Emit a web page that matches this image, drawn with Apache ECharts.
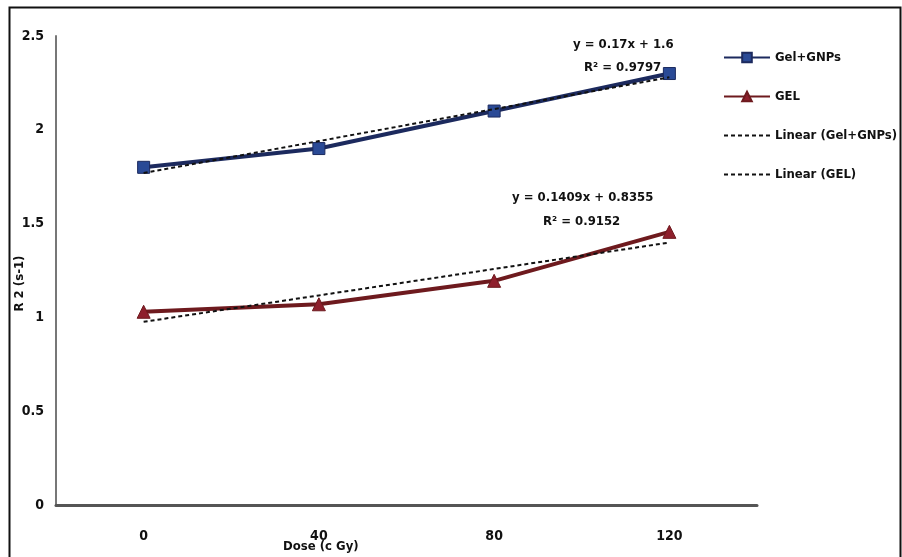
<!DOCTYPE html>
<html>
<head>
<meta charset="utf-8">
<script src="https://cdn.jsdelivr.net/npm/echarts@6/dist/echarts.min.js"></script>
<style>
html,body{margin:0;padding:0;background:#fff;}
#chart{width:902px;height:557px;}
</style>
</head>
<body>
<div id="chart"></div>
<script>
const categories = ['0', '40', '80', '120'];
const gelGnps = [1.8, 1.9, 2.1, 2.3];
const gel = [1.03, 1.07, 1.195, 1.456];
const trendGelGnps = [1.77, 1.94, 2.11, 2.28];
const trendGel = [0.9764, 1.1173, 1.2582, 1.3991];
const yTicks = [0, 0.5, 1, 1.5, 2, 2.5];
const eqGelGnps = ['y = 0.17x + 1.6', 'R\u00b2 = 0.9797'];
const eqGel = ['y = 0.1409x + 0.8355', 'R\u00b2 = 0.9152'];

const FONT = "'Liberation Sans Narrow', 'DejaVu Sans Condensed', 'Open Sans', sans-serif";
const chart = echarts.init(document.getElementById('chart'));

function textEl(x, y, t) {
  return {
    type: 'text', left: x, top: y,
    style: { text: t, fill: '#111', font: "bold 13px " + FONT }
  };
}

const noMarker = { color: 'rgba(0,0,0,0)', borderWidth: 0 };

chart.setOption({
  animation: false,
  backgroundColor: '#fff',
  grid: { left: 56, right: 145, top: 36, bottom: 52, containLabel: false, outerBoundsMode: 'none' },
  legend: {
    orient: 'vertical',
    left: 718, top: 46,
    itemGap: 26,
    itemWidth: 46, itemHeight: 12,
    textStyle: { fontFamily: FONT, fontWeight: 'bold', fontSize: 13, color: '#111' },
    data: [
      { name: 'Gel+GNPs' },
      { name: 'GEL' },
      { name: 'Linear (Gel+GNPs)', itemStyle: noMarker },
      { name: 'Linear (GEL)', itemStyle: noMarker }
    ]
  },
  xAxis: {
    type: 'category',
    data: categories,
    boundaryGap: true,
    axisLine: { lineStyle: { color: '#555', width: 3 } },
    axisTick: { show: false },
    axisLabel: { margin: 24, fontFamily: FONT, fontWeight: 'bold', fontSize: 14, color: '#111' },
    splitLine: { show: false }
  },
  yAxis: {
    type: 'value',
    min: yTicks[0], max: yTicks[yTicks.length - 1], interval: 0.5,
    name: 'R 2 (s-1)',
    nameLocation: 'middle',
    nameGap: 30,
    nameMoveOverlap: false,
    nameRotate: 90,
    nameTextStyle: { fontFamily: FONT, fontWeight: 'bold', fontSize: 13, color: '#111', padding: [0, 26, 0, 0] },
    axisLine: { show: true, lineStyle: { color: '#777', width: 2 } },
    axisTick: { show: false },
    axisLabel: { margin: 12, fontFamily: FONT, fontWeight: 'bold', fontSize: 14, color: '#111' },
    splitLine: { show: false }
  },
  series: [
    {
      name: 'Gel+GNPs', type: 'line', data: gelGnps,
      symbol: 'rect', symbolSize: 12,
      lineStyle: { color: '#1c2a5e', width: 4 },
      itemStyle: { color: '#2a4a96', borderColor: '#1c2a5e', borderWidth: 1 },
      z: 3
    },
    {
      name: 'GEL', type: 'line', data: gel,
      symbol: 'triangle', symbolSize: 13,
      lineStyle: { color: '#6e1a1e', width: 4 },
      itemStyle: { color: '#8e1f2c', borderColor: '#6e1a1e', borderWidth: 1 },
      z: 3
    },
    {
      name: 'Linear (Gel+GNPs)', type: 'line', data: trendGelGnps,
      symbol: 'none',
      lineStyle: { color: '#111', width: 2, type: [4, 3] },
      itemStyle: { color: '#111' },
      z: 4
    },
    {
      name: 'Linear (GEL)', type: 'line', data: trendGel,
      symbol: 'none',
      lineStyle: { color: '#111', width: 2, type: [4, 3] },
      itemStyle: { color: '#111' },
      z: 4
    }
  ],
  graphic: [
    { type: 'rect', left: 7, top: 5, shape: { width: 891, height: 570 }, style: { fill: null, stroke: '#111', lineWidth: 2 }, silent: true },
    textEl(573, 38, eqGelGnps[0]),
    textEl(584, 61, eqGelGnps[1]),
    textEl(512, 191, eqGel[0]),
    textEl(543, 215, eqGel[1]),
    textEl(283, 540, 'Dose (c Gy)')
  ]
});
</script>
</body>
</html>
